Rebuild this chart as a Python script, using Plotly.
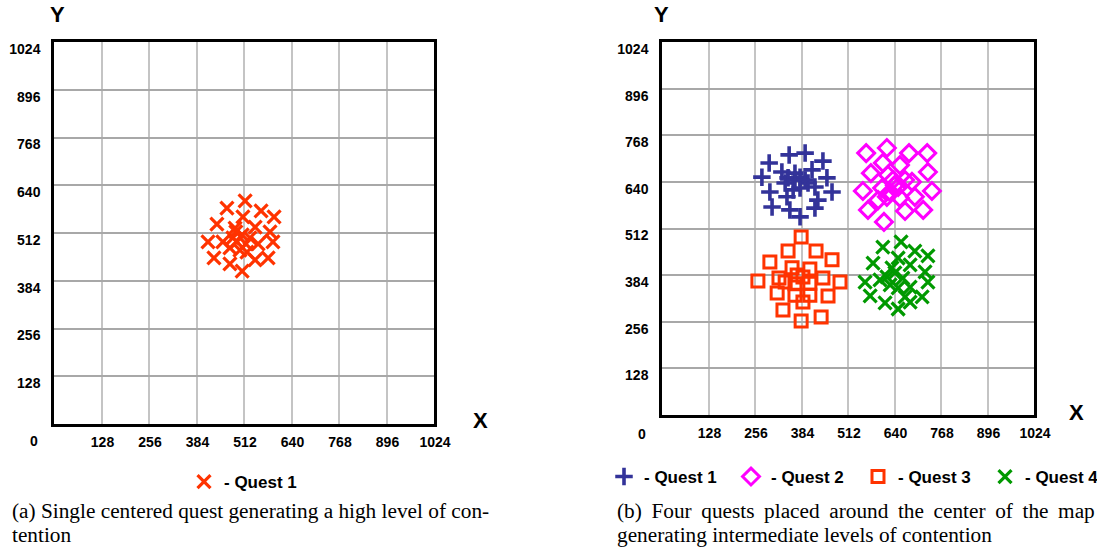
import plotly.graph_objects as go

W, H = 1097, 550

# ---------------- data ----------------
# (a) single centred quest
a_q1_x = [515, 466, 558, 593, 439, 509, 488, 542, 582, 415, 455, 482, 507, 528, 590,
          431, 474, 501, 520, 474, 542, 577, 507, 493, 550, 517, 490]
a_q1_y = [598, 579, 571, 555, 536, 555, 525, 528, 515, 488, 488, 499, 507, 499, 488,
          445, 472, 466, 461, 429, 440, 445, 410, 488, 483, 483, 515]

# (b) four quests around the centre
b_q1_x = [394, 350, 443, 295, 330, 275, 366, 413, 347, 380, 454, 339, 402, 421, 297,
          361, 380, 468, 344, 429, 303, 352, 421, 380, 366, 394]
b_q1_y = [719, 714, 697, 692, 667, 653, 664, 673, 651, 653, 651, 637, 637, 626, 612,
          618, 623, 612, 599, 590, 571, 563, 568, 544, 645, 645]

b_q2_x = [562, 619, 680, 730, 608, 655, 575, 732, 622, 636, 669, 688, 553, 606, 650,
          743, 619, 655, 696, 595, 567, 669, 719, 611, 641, 628]
b_q2_y = [719, 733, 719, 719, 692, 686, 664, 667, 659, 645, 645, 640, 615, 623, 626,
          615, 599, 596, 599, 590, 563, 560, 563, 530, 631, 612]

b_q3_x = [383, 347, 424, 297, 468, 358, 407, 264, 322, 372, 388, 443, 490, 339, 366,
          407, 317, 366, 407, 457, 388, 333, 438, 383]
b_q3_y = [489, 450, 450, 420, 426, 404, 401, 368, 376, 384, 379, 376, 365, 365, 360,
          362, 335, 329, 329, 327, 310, 288, 269, 258]

b_q4_x = [658, 608, 696, 732, 581, 650, 633, 683, 724, 559, 600, 619, 641, 663, 732,
          628, 650, 683, 573, 614, 669, 716, 683, 650]
b_q4_y = [475, 461, 450, 437, 417, 431, 404, 412, 393, 365, 371, 379, 390, 376, 365,
          357, 349, 351, 327, 308, 324, 324, 310, 291]

tick_vals = [128, 256, 384, 512, 640, 768, 896, 1024]
tick_text = ["128", "256", "384", "512", "640", "768", "896", "1024"]

RED = "#FF3300"
BLUE = "#333399"
MAGENTA = "#FF00FF"
GREEN = "#009900"

SANS = "Liberation Sans, Arial, Helvetica, sans-serif"
SERIF = "Liberation Serif, Times New Roman, serif"


def px(x):
    return x / W


def py(y):
    return 1 - y / H


fig = go.Figure()

fig.add_trace(go.Scatter(
    x=a_q1_x, y=a_q1_y, mode="markers", name="- Quest 1",
    xaxis="x", yaxis="y", legend="legend",
    marker=dict(symbol="x-thin", size=13, color=RED, line=dict(width=3.2, color=RED)),
))

fig.add_trace(go.Scatter(
    x=b_q1_x, y=b_q1_y, mode="markers", name="- Quest 1",
    xaxis="x2", yaxis="y2", legend="legend2",
    marker=dict(symbol="cross-thin", size=12.5, color=BLUE, line=dict(width=3.6, color=BLUE)),
))
fig.add_trace(go.Scatter(
    x=b_q2_x, y=b_q2_y, mode="markers", name="- Quest 2",
    xaxis="x2", yaxis="y2", legend="legend2",
    marker=dict(symbol="diamond-open", size=13, color=MAGENTA, line=dict(width=3, color=MAGENTA)),
))
fig.add_trace(go.Scatter(
    x=b_q3_x, y=b_q3_y, mode="markers", name="- Quest 3",
    xaxis="x2", yaxis="y2", legend="legend2",
    marker=dict(symbol="square-open", size=12, color=RED, line=dict(width=3, color=RED)),
))
fig.add_trace(go.Scatter(
    x=b_q4_x, y=b_q4_y, mode="markers", name="- Quest 4",
    xaxis="x2", yaxis="y2", legend="legend2",
    marker=dict(symbol="x-thin", size=13, color=GREEN, line=dict(width=3.2, color=GREEN)),
))

tickfont = dict(family=SANS, size=14, color="black", weight="bold")


def xaxis(domain, anchor):
    return dict(domain=domain, anchor=anchor, range=[0, 1024], tickmode="array",
                tickvals=tick_vals, ticktext=tick_text, showgrid=True,
                gridcolor="#c4c4c4", gridwidth=1.5, showline=True, linecolor="black",
                linewidth=2.5, mirror=True, zeroline=False, ticks="",
                tickfont=tickfont, ticklabelstandoff=3, ticklabelshift=1,
                fixedrange=True, tickangle=0)


def yaxis(domain, anchor):
    return dict(domain=domain, anchor=anchor, range=[0, 1024], tickmode="array",
                tickvals=tick_vals, ticktext=tick_text, showgrid=True,
                gridcolor="#a8a8a8", gridwidth=1.5, showline=True, linecolor="black",
                linewidth=2.5, mirror=True, zeroline=False, ticks="",
                tickfont=tickfont, ticklabelstandoff=8, ticklabelshift=7,
                fixedrange=True)


legend_font = dict(family=SANS, size=17, color="black", weight="bold")

fig.update_layout(
    width=W, height=H,
    margin=dict(l=0, r=0, t=0, b=0, autoexpand=False),
    paper_bgcolor="white", plot_bgcolor="white",
    xaxis=xaxis([px(54), px(434)], "y"),
    yaxis=yaxis([py(424), py(42)], "x"),
    xaxis2=xaxis([px(662), px(1034)], "y2"),
    yaxis2=yaxis([py(415), py(42)], "x2"),
    legend=dict(orientation="h", x=px(184), y=py(482), xanchor="left", yanchor="middle",
                font=legend_font, bgcolor="rgba(0,0,0,0)", borderwidth=0,
                itemclick=False, itemdoubleclick=False),
    legend2=dict(orientation="h", x=px(604), y=py(477), xanchor="left", yanchor="middle",
                 font=legend_font, bgcolor="rgba(0,0,0,0)", borderwidth=0,
                 itemclick=False, itemdoubleclick=False, entrywidth=82),
    showlegend=True,
)

annotations = [
    # axis titles
    dict(text="Y", x=px(57), y=py(15), font=dict(family=SANS, size=22, color="black", weight="bold")),
    dict(text="X", x=px(481), y=py(420), font=dict(family=SANS, size=22, color="black", weight="bold")),
    dict(text="Y", x=px(661), y=py(14), font=dict(family=SANS, size=22, color="black", weight="bold")),
    dict(text="X", x=px(1076), y=py(412), font=dict(family=SANS, size=22, color="black", weight="bold")),
    # origin labels
    dict(text="0", x=px(34), y=py(441), font=tickfont),
    dict(text="0", x=px(642), y=py(434), font=tickfont),
]
for a in annotations:
    a.update(xref="paper", yref="paper", showarrow=False, xanchor="center", yanchor="middle")

captions = [
    ("(a) Single centered quest generating a high level of con-", 10, 511),
    ("tention", 10, 535),
    ("(b) \u2009Four \u2009quests \u2009placed \u2009around \u2009the \u2009center \u2009of \u2009the \u2009map", 615, 511),
    ("generating intermediate levels of contention", 615, 535),
]
for text, x, y in captions:
    annotations.append(dict(text=text, x=px(x), y=py(y), xref="paper", yref="paper",
                            showarrow=False, xanchor="left", yanchor="middle",
                            font=dict(family=SERIF, size=21.3, color="black")))

fig.update_layout(annotations=annotations)

fig.write_html("out.html", config={"displayModeBar": False},
               post_script="document.body.style.margin='0';")
